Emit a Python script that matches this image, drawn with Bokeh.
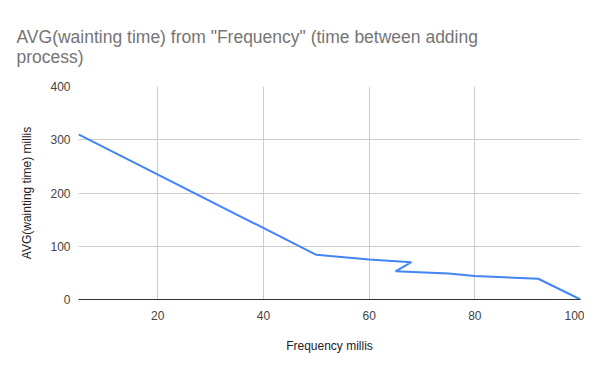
from bokeh.plotting import figure
from bokeh.models import FixedTicker, Range1d
from bokeh.embed import file_html
from bokeh.resources import INLINE

title_text = 'AVG(wainting time) from "Frequency" (time between adding\nprocess)'
x_label = "Frequency millis"
y_label = "AVG(wainting time) millis"

frequency = [5, 50, 60, 68, 65, 75, 80, 92, 100]
avg_wait = [310, 84, 75, 70, 53, 49, 44, 39, 0]

x_ticks = [20, 40, 60, 80, 100]
y_ticks = [0, 100, 200, 300, 400]

FONT = "Liberation Sans"

p = figure(width=584, height=355, output_backend="svg", toolbar_location=None,
           x_range=Range1d(5, 100), y_range=Range1d(0, 400),
           min_border_left=78, min_border_right=4, min_border_top=86, min_border_bottom=56)
p.outline_line_color = None
p.background_fill_color = "white"
p.border_fill_color = "white"

p.title.text = title_text
p.title.text_font = FONT
p.title.text_font_size = "17.5px"
p.title.text_color = "#757575"
p.title.text_font_style = "normal"
p.title.offset = -62
p.title.standoff = 39

p.line(frequency, avg_wait, line_color="#4285F4", line_width=2)

for ax in (p.xaxis[0], p.yaxis[0]):
    ax.major_tick_line_color = None
    ax.minor_tick_line_color = None
    ax.major_label_text_font = FONT
    ax.major_label_text_font_size = "12px"
    ax.major_label_text_color = "#444444"
    ax.axis_label_text_font = FONT
    ax.axis_label_text_font_size = "12px"
    ax.axis_label_text_color = "#222222"
    ax.axis_label_text_font_style = "normal"

p.xaxis.ticker = FixedTicker(ticks=x_ticks)
p.yaxis.ticker = FixedTicker(ticks=y_ticks)
p.xaxis.axis_label = x_label
p.yaxis.axis_label = y_label
p.xaxis.axis_line_color = "#333333"
p.xaxis.axis_line_width = 1
p.yaxis.axis_line_color = None
p.xaxis.major_label_standoff = 5
p.yaxis.major_label_standoff = 2
p.xaxis.axis_label_standoff = 16
p.yaxis.axis_label_standoff = 13

p.xgrid.ticker = FixedTicker(ticks=x_ticks)
p.ygrid.ticker = FixedTicker(ticks=y_ticks)
p.xgrid.grid_line_color = "#cccccc"
p.ygrid.grid_line_color = "#cccccc"

open("out.html", "w").write(file_html(p, INLINE))
